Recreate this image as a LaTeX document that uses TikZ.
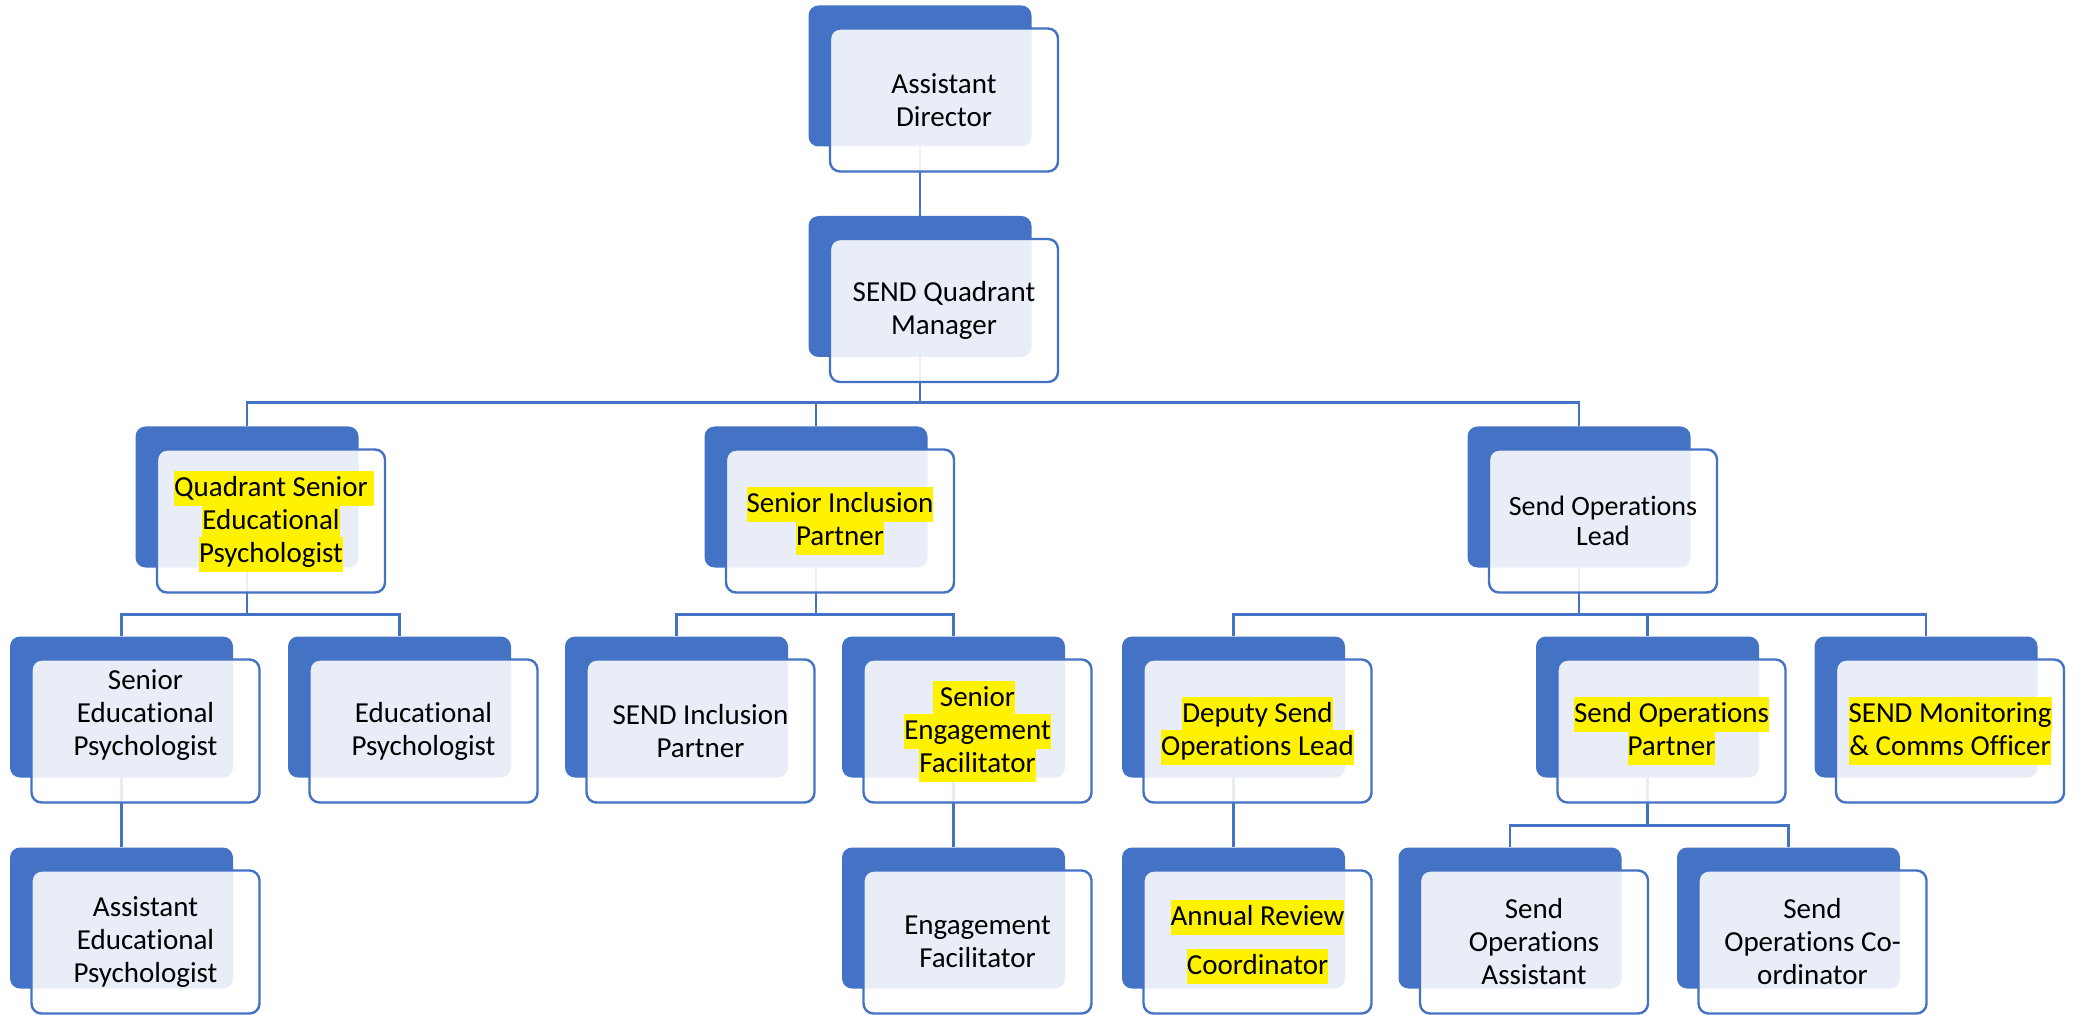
\documentclass[tikz,border=0pt]{standalone}
\usepackage{fontspec}
\setmainfont{Carlito}[Ligatures=NoCommon]
\definecolor{orgblue}{HTML}{4472C4}
\newcommand{\rolefont}{\fontsize{14.5pt}{16.5pt}\selectfont\lineskiplimit=-30pt\relax}
\newcommand{\hlt}[1]{{\setlength{\fboxsep}{0pt}\colorbox{yellow}{\rule[-4.75pt]{0pt}{17.5pt}#1}}}
\pgfdeclarelayer{bg}
\pgfsetlayers{bg,main}
\begin{document}
\begin{tikzpicture}[x=0.5pt, y=-0.5pt,
  backbox/.style={fill=orgblue, rounded corners=5pt, inner sep=0pt,
    minimum width=111.5pt, minimum height=70.5pt},
  frontbox/.style={draw=orgblue, line width=1.2pt, fill=white, fill opacity=0.88,
    text opacity=1, rounded corners=5pt, inner sep=0pt, align=center,
    minimum width=114pt, minimum height=71.5pt, font=\rolefont},
  link/.style={draw=orgblue, line width=1.3pt}]
  \useasboundingbox (0,0) rectangle (2080,1015);

  % top of the tree
  \node[backbox] (ad) at (920,76) {};
  \node[frontbox] (ad-f) at ([shift={(24,24)}]ad) {Assistant\\Director};
  \node[backbox] (qm) at (920,286.5) {};
  \node[frontbox] (qm-f) at ([shift={(24,24)}]qm) {SEND Quadrant\\Manager};

  % second row
  \node[backbox] (qsep) at (247,497) {};
  \node[frontbox] (qsep-f) at ([shift={(24,24)}]qsep)
    {\hlt{Quadrant Senior}\rlap{\hlt{\ }}\\\hlt{Educational}\\\hlt{Psychologist}};
  \node[backbox] (sip) at (816,497) {};
  \node[frontbox] (sip-f) at ([shift={(24,24)}]sip) {\hlt{Senior Inclusion}\\\hlt{Partner}};
  \node[backbox] (sol) at (1579,497) {};
  \node[frontbox, font=\fontsize{14pt}{15pt}\selectfont] (sol-f) at ([shift={(24,24)}]sol)
    {Send Operations\\Lead};

  % third row
  \node[backbox] (sep) at (121.5,707) {};
  \node[frontbox] (sep-f) at ([shift={(24,24)}]sep)
    {Senior\\Educational\\Psychologist\rule[-18pt]{0pt}{0pt}};
  \node[backbox] (ep) at (399.5,707) {};
  \node[frontbox] (ep-f) at ([shift={(24,24)}]ep) {Educational\\Psychologist};
  \node[backbox] (sendip) at (676.5,707) {};
  \node[frontbox] (sendip-f) at ([shift={(24,24)}]sendip) {SEND Inclusion\\Partner};
  \node[backbox] (sef) at (953.5,707) {};
  \node[frontbox] (sef-f) at ([shift={(24,24)}]sef)
    {\llap{\hlt{\ }}\hlt{Senior}\\\hlt{Engagement}\\\hlt{Facilitator}};
  \node[backbox] (dsol) at (1233.5,707) {};
  \node[frontbox] (dsol-f) at ([shift={(24,24)}]dsol) {\hlt{Deputy Send}\\\hlt{Operations Lead}};
  \node[backbox] (sop) at (1647.5,707) {};
  \node[frontbox] (sop-f) at ([shift={(24,24)}]sop) {\hlt{Send Operations}\\\hlt{Partner}};
  \node[backbox] (smco) at (1926,707) {};
  \node[frontbox] (smco-f) at ([shift={(24,24)}]smco) {\hlt{SEND Monitoring}\\\hlt{\& Comms Officer}};

  % bottom row
  \node[backbox] (aep) at (121.5,918) {};
  \node[frontbox] (aep-f) at ([shift={(24,24)}]aep) {Assistant\\Educational\\Psychologist};
  \node[backbox] (ef) at (953.5,918) {};
  \node[frontbox] (ef-f) at ([shift={(24,24)}]ef) {Engagement\\Facilitator};
  \node[backbox] (arc) at (1233.5,918) {};
  \node[frontbox] (arc-f) at ([shift={(24,24)}]arc) {\hlt{Annual Review}\\[8pt]\hlt{Coordinator}};
  \node[backbox] (soa) at (1510,918) {};
  \node[frontbox] (soa-f) at ([shift={(24,24)}]soa) {Send\\Operations\\Assistant};
  \node[backbox] (soc) at (1788.5,918) {};
  \node[frontbox] (soc-f) at ([shift={(24,24)}]soc) {Send\\Operations Co-\\ordinator};

  % reporting lines, behind the boxes
  \begin{pgfonlayer}{bg}
    \draw[link] (ad.south) -- (qm.north);
    \draw[link] (qm.south) -- ++(0,45) -| (qsep.north);
    \draw[link] (qm.south) -- ++(0,45) -| (sip.north);
    \draw[link] (qm.south) -- ++(0,45) -| (sol.north);
    \draw[link] (qsep.south) -- ++(0,46.5) -| (sep.north);
    \draw[link] (qsep.south) -- ++(0,46.5) -| (ep.north);
    \draw[link] (sip.south) -- ++(0,46.5) -| (sendip.north);
    \draw[link] (sip.south) -- ++(0,46.5) -| (sef.north);
    \draw[link] (sol.south) -- ++(0,46.5) -| (dsol.north);
    \draw[link] (sol.south) -- ++(0,46.5) -| (sop.north);
    \draw[link] (sol.south) -- ++(0,46.5) -| (smco.north);
    \draw[link] (sep.south) -- (aep.north);
    \draw[link] (sef.south) -- (ef.north);
    \draw[link] (dsol.south) -- (arc.north);
    \draw[link] (sop.south) -- ++(0,47.5) -| (soa.north);
    \draw[link] (sop.south) -- ++(0,47.5) -| (soc.north);
  \end{pgfonlayer}
\end{tikzpicture}
\end{document}
